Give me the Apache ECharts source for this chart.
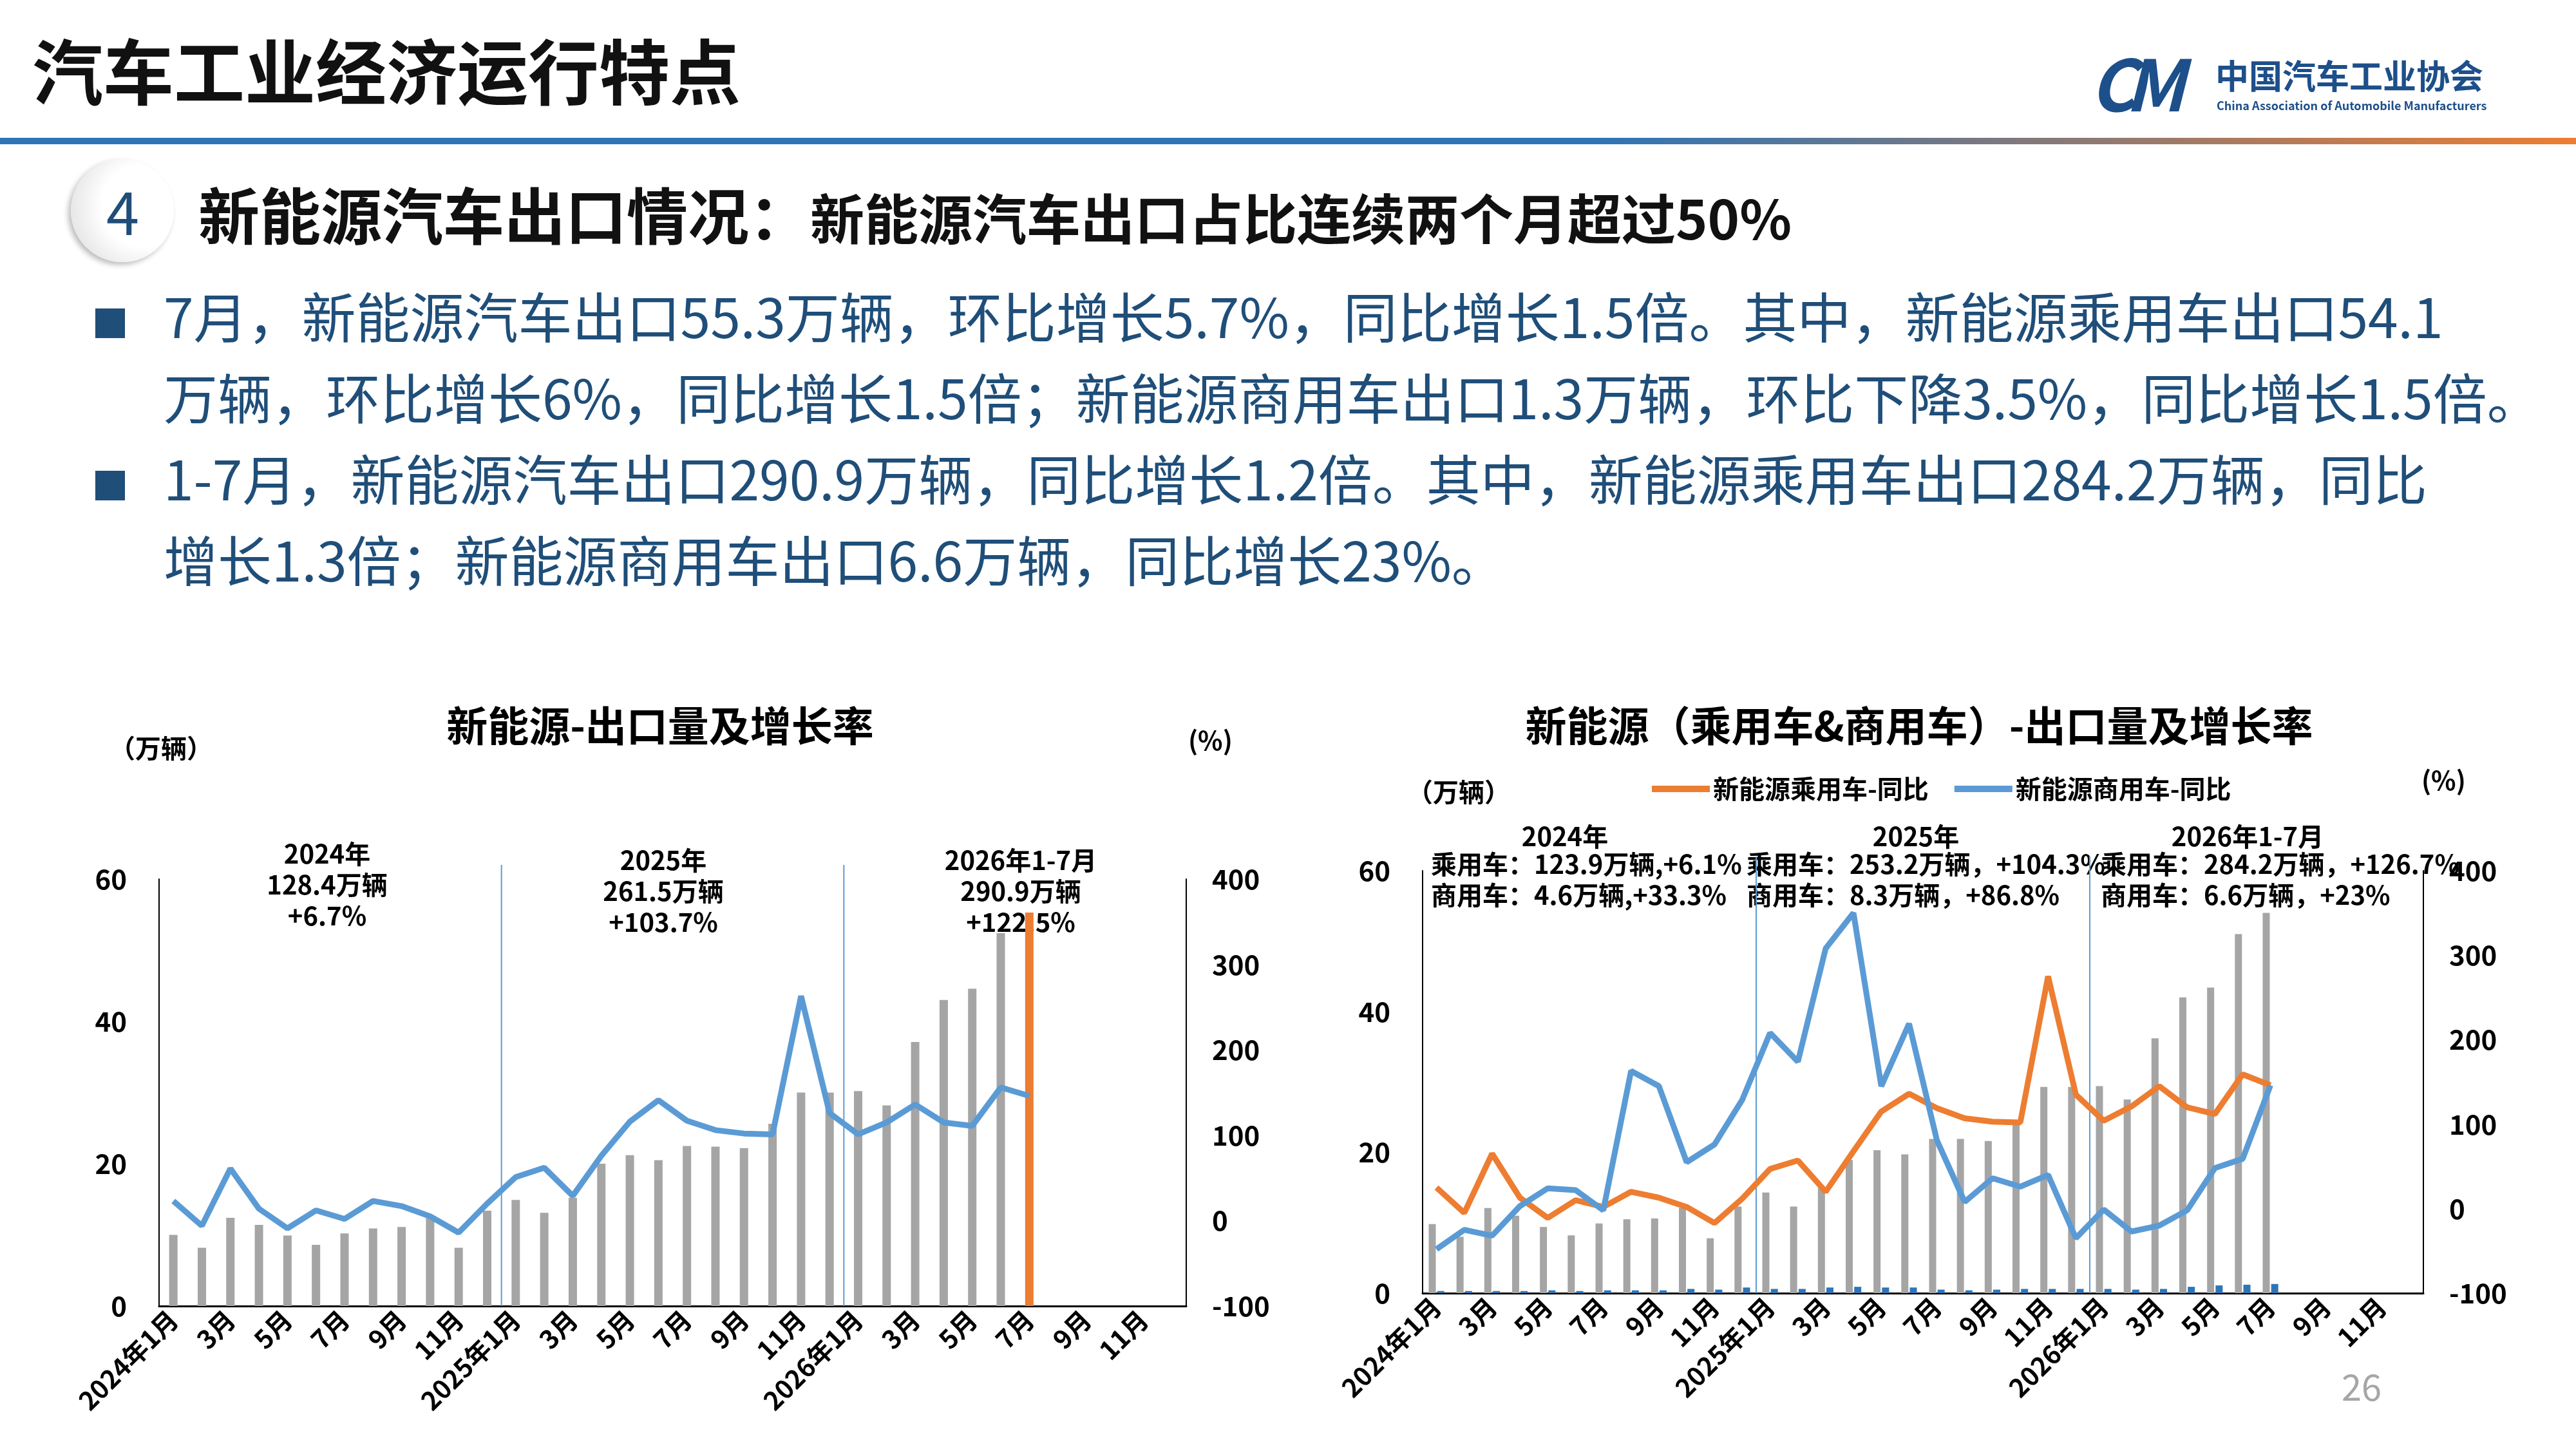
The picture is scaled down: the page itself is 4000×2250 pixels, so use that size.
<!DOCTYPE html>
<html><head><meta charset="utf-8">
<script src="https://cdn.jsdelivr.net/npm/echarts@6/dist/echarts.min.js"></script>
<style>
body{margin:0;width:4000px;height:2250px;background:#fff;font-family:"Noto Sans CJK SC",sans-serif;position:relative;overflow:hidden}
#chart{position:absolute;left:0;top:0;width:4000px;height:2250px}
.abs{position:absolute;white-space:nowrap}
</style></head>
<body>
<div id="chart"></div>
<div class="abs" style="left:50px;top:26px;font-size:110px;font-weight:bold;color:#111;">汽车工业经济运行特点</div>
<div class="abs" style="left:3245px;top:80px;width:130px;height:90px;">
  <div style="position:absolute;left:0;top:0;font-size:110px;font-weight:bold;font-style:italic;color:#1d4f8a;line-height:90px;letter-spacing:-18px;">CM</div></div>
<div class="abs" style="left:3440px;top:78px;font-size:52px;font-weight:bold;color:#1d4f8a;">中国汽车工业协会</div>
<div class="abs" style="left:3442px;top:150px;font-size:18px;font-weight:bold;color:#1d4f8a;">China Association of Automobile Manufacturers</div>
<div class="abs" style="left:0;top:214px;width:4000px;height:10px;background:linear-gradient(to right,#2e75b6 0%,#2e75b6 62%,#ed7d31 100%);"></div>
<div class="abs" style="left:110px;top:247px;width:160px;height:160px;border-radius:50%;background:radial-gradient(circle at 70% 45%,#ffffff 45%,#d8d8d8 100%);box-shadow:-4px 4px 8px #bbb;"></div>
<div class="abs" style="left:165px;top:258px;font-size:92px;color:#1f4e79;">4</div>
<div class="abs" style="left:308px;top:262px;font-size:95px;font-weight:bold;color:#111;">新能源汽车出口情况：<span style="font-size:84px;">新能源汽车出口占比连续两个月超过50%</span></div>
<div class="abs" style="left:148px;top:426px;font-size:84px;line-height:126px;color:#1f4e79;">
<div><span style="display:inline-block;width:46px;height:46px;background:#1f4e79;margin-right:60px;"></span>7月，新能源汽车出口55.3万辆，环比增长5.7%，同比增长1.5倍。其中，新能源乘用车出口54.1</div>
<div style="padding-left:106px;">万辆，环比增长6%，同比增长1.5倍；新能源商用车出口1.3万辆，环比下降3.5%，同比增长1.5倍。</div>
<div><span style="display:inline-block;width:46px;height:46px;background:#1f4e79;margin-right:60px;"></span>1-7月，新能源汽车出口290.9万辆，同比增长1.2倍。其中，新能源乘用车出口284.2万辆，同比</div>
<div style="padding-left:106px;">增长1.3倍；新能源商用车出口6.6万辆，同比增长23%。</div>
</div>
<div class="abs" style="left:3636px;top:2110px;font-size:56px;color:#a6a6a6;">26</div>
<script>
var months = [];
['2024','2025','2026'].forEach(function (y) {
  for (var m = 1; m <= 12; m++) months.push(m === 1 ? y + '年1月' : m + '月');
});
// left chart: total NEV exports (万辆) and yoy (%)
var nevExport = [10.0,8.2,12.4,11.4,9.9,8.6,10.2,10.9,11.1,12.6,8.2,13.4,
  14.9,13.1,15.2,20.0,21.2,20.5,22.5,22.4,22.2,25.6,30.0,30.0,
  30.2,28.2,37.1,43.0,44.6,52.4,55.3,null,null,null,null,null];
var nevYoy = [23,-6,61,14,-9,12,2,23,17,5,-14,20,
  51,62,29,76,116,141,117,106,102,101,263,126,
  101,115,136,115,111,156,146,null,null,null,null,null];
// right chart: passenger / commercial
var pcExport = [9.8,8.0,12.1,11.0,9.4,8.2,9.9,10.5,10.6,12.1,7.8,12.3,
  14.3,12.3,14.9,18.9,20.3,19.7,21.9,21.9,21.6,24.3,29.3,29.3,
  29.4,27.5,36.2,42.0,43.4,51.0,54.0,null,null,null,null,null];
var cvExport = [0.3,0.3,0.3,0.3,0.4,0.3,0.4,0.4,0.4,0.6,0.5,0.8,
  0.6,0.6,0.8,0.9,0.8,0.8,0.5,0.4,0.5,0.6,0.6,0.6,
  0.6,0.5,0.6,0.9,1.1,1.2,1.3,null,null,null,null,null];
var pcYoy = [25,-5,65,13,-11,10,2,20,13,2,-17,12,
  47,57,20,68,115,136,119,107,103,102,275,135,
  104,121,145,120,112,159,146,null,null,null,null,null];
var cvYoy = [-48,-25,-32,3,24,22,-2,163,145,55,76,129,
  208,174,308,350,145,219,81,8,36,26,40,-35,
  -1,-27,-20,-2,48,59,146,null,null,null,null,null];

var FONT = 'Noto Sans CJK SC';
function xAx(gi){
  return {type:'category', gridIndex:gi, data:months, boundaryGap:true,
    axisLine:{lineStyle:{color:'#000',width:3}}, axisTick:{show:false},
    axisLabel:{interval:1, rotate:45, fontSize:40, fontWeight:'bold', color:'#000', fontFamily:FONT, margin:14}};
}
function yL(gi){ return {type:'value', gridIndex:gi, min:0, max:60, interval:20,
  axisLine:{show:true,lineStyle:{color:'#000',width:2}}, splitLine:{show:false},
  axisLabel:{fontSize:42, fontWeight:'bold', color:'#000', fontFamily:FONT, margin:50}}; }
function yR(gi){ return {type:'value', gridIndex:gi, min:-100, max:400, interval:100, position:'right',
  axisLine:{show:true,lineStyle:{color:'#000',width:2}}, splitLine:{show:false},
  axisLabel:{fontSize:42, fontWeight:'bold', color:'#000', fontFamily:FONT, margin:40}}; }
function note(x,y,lines,align){
  return {type:'text', x:x, y:y, style:{text:lines.join('\n'), fontSize:40, fontWeight:'bold', lineHeight:48,
    fill:'#000', fontFamily:FONT, align:align||'center', verticalAlign:'top'}};
}
function lbl(x,y,t){ return {type:'text', x:x, y:y, style:{text:t, fontSize:40, fontWeight:'bold', fill:'#000', fontFamily:FONT}}; }
var chart = echarts.init(document.getElementById('chart'));
chart.setOption({
  animation:false,
  title:[
    {text:'新能源-出口量及增长率', left:1020, top:1090, textAlign:'center', textStyle:{fontSize:64,fontWeight:'bold',color:'#000',fontFamily:FONT}},
    {text:'新能源（乘用车&商用车）-出口量及增长率', left:2975, top:1090, textAlign:'center', textStyle:{fontSize:64,fontWeight:'bold',color:'#000',fontFamily:FONT}}
  ],
  legend:{left:2560, top:1200, icon:'rect', itemWidth:90, itemHeight:10, itemGap:40, data:['新能源乘用车-同比','新能源商用车-同比'],
    textStyle:{fontSize:40,fontWeight:'bold',color:'#000',fontFamily:FONT}},
  grid:[{left:247,right:4000-1842,top:1365,bottom:2250-2028},{left:2209,right:4000-3763,top:1352,bottom:2250-2008}],
  xAxis:[xAx(0),xAx(1)],
  yAxis:[yL(0),yR(0),yL(1),yR(1)],
  series:[
    {type:'bar', xAxisIndex:0, yAxisIndex:0, barWidth:13,
      data:nevExport.map(function(v,i){ return i===30 ? {value:v,itemStyle:{color:'#ed7d31'}} : v; }),
      itemStyle:{color:'#a5a5a5'}, z:2},
    {type:'line', xAxisIndex:0, yAxisIndex:1, data:nevYoy, showSymbol:false, lineStyle:{color:'#5b9bd5',width:9}, itemStyle:{color:'#5b9bd5'}, z:3},
    {type:'bar', name:'新能源乘用车', xAxisIndex:1, yAxisIndex:2, barWidth:11, barGap:'20%', data:pcExport, itemStyle:{color:'#a5a5a5'}},
    {type:'bar', name:'新能源商用车', xAxisIndex:1, yAxisIndex:2, barWidth:11, barGap:'20%', data:cvExport, itemStyle:{color:'#2e75b6'}},
    {type:'line', name:'新能源乘用车-同比', xAxisIndex:1, yAxisIndex:3, data:pcYoy, showSymbol:false, lineStyle:{color:'#ed7d31',width:9}, itemStyle:{color:'#ed7d31'}},
    {type:'line', name:'新能源商用车-同比', xAxisIndex:1, yAxisIndex:3, data:cvYoy, showSymbol:false, lineStyle:{color:'#5b9bd5',width:9}, itemStyle:{color:'#5b9bd5'}}
  ]
});
// year separators between Dec and Jan, positioned from the category axis
var g = [];
[0,1].forEach(function (gi) {
  var top = chart.convertToPixel({xAxisIndex:gi, yAxisIndex:gi*2}, [0, 62])[1];
  var bot = chart.convertToPixel({xAxisIndex:gi, yAxisIndex:gi*2}, [0, 0])[1];
  [11, 23].forEach(function (i) {
    var a = chart.convertToPixel({xAxisIndex:gi, yAxisIndex:gi*2}, [i, 0])[0];
    var b = chart.convertToPixel({xAxisIndex:gi, yAxisIndex:gi*2}, [i + 1, 0])[0];
    var x = (a + b) / 2;
    g.push({type:'line', silent:true, z:1, shape:{x1:x, y1:top, x2:x, y2:bot}, style:{stroke:'#5b9bd5', lineWidth:2}});
  });
});
g.push(lbl(170,1142,'（万辆）'), lbl(1845,1130,'(%)'), lbl(2185,1210,'（万辆）'), lbl(3760,1192,'(%)'),
  note(508,1302,['2024年','128.4万辆','+6.7%']),
  note(1030,1312,['2025年','261.5万辆','+103.7%']),
  note(1585,1312,['2026年1-7月','290.9万辆','+122.5%']),
  note(2430,1275,['2024年']),
  note(2222,1318,['乘用车：123.9万辆,+6.1%','商用车：4.6万辆,+33.3%'],'left'),
  note(2975,1275,['2025年']),
  note(2712,1318,['乘用车：253.2万辆，+104.3%','商用车：8.3万辆，+86.8%'],'left'),
  note(3490,1275,['2026年1-7月']),
  note(3262,1318,['乘用车：284.2万辆，+126.7%','商用车：6.6万辆，+23%'],'left'));
chart.setOption({graphic:g});
</script>
</body></html>
